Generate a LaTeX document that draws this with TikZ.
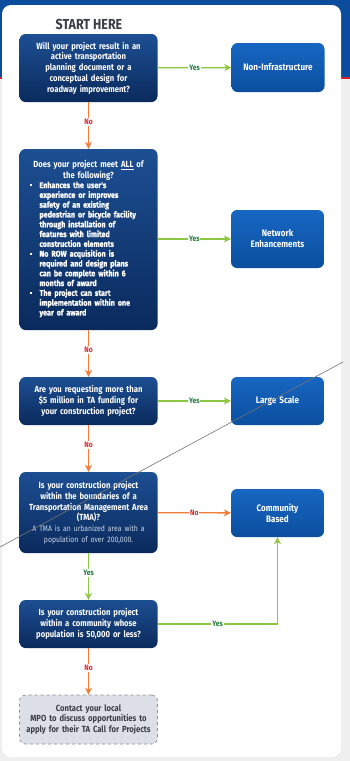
\documentclass[tikz,border=0pt]{standalone}
\usepackage{fontspec}
\setmainfont{Fira Sans}[FakeStretch=0.86]
\newfontfamily\medfont{Fira Sans}[FakeStretch=0.86, FakeBold=1.0]
\usetikzlibrary{arrows.meta}
\definecolor{bandblue}{HTML}{0B4C9C}
\definecolor{bandred}{HTML}{D42027}
\definecolor{pagegray}{HTML}{EFEFEF}
\definecolor{qtop}{HTML}{1D4F93}
\definecolor{qbot}{HTML}{0A2A5C}
\definecolor{rtop}{HTML}{1766C2}
\definecolor{rbot}{HTML}{0B4F9E}
\definecolor{yesline}{HTML}{8DC63F}
\definecolor{yestext}{HTML}{1E7B3A}
\definecolor{noline}{HTML}{F37B36}
\definecolor{notext}{HTML}{D6262F}
\definecolor{darktext}{HTML}{3A3F47}
\definecolor{endfill}{HTML}{DCDFE5}
\definecolor{endborder}{HTML}{8A8F98}
\definecolor{subtext}{HTML}{C9D5E8}
\newcommand{\sqbul}{\raisebox{1.8pt}{\rule{2.2pt}{2.2pt}}}
\begin{document}
\begin{tikzpicture}[x=1pt,y=-1pt,
  qbox/.style={rounded corners=6pt, top color=qtop, bottom color=qbot, draw=none,
    text=white, align=center, minimum width=138pt, text width=134pt, inner sep=2pt,
    font=\bfseries\fontsize{8.9}{10.8}\selectfont},
  rbox/.style={rounded corners=6pt, top color=rtop, bottom color=rbot, draw=none,
    text=white, align=center, minimum width=93pt, text width=90pt, inner sep=1.5pt,
    font=\bfseries\fontsize{9.4}{11}\selectfont},
  endbox/.style={rounded corners=6pt, fill=endfill, draw=endborder, dashed, line width=0.7pt,
    text=darktext, align=center, minimum width=138pt, text width=134pt, inner sep=2pt,
    font=\bfseries\fontsize{8.9}{10.6}\selectfont},
  yesarrow/.style={draw=yesline, line width=1.3pt, -{Stealth[length=7pt,width=7pt]}},
  noarrow/.style={draw=noline, line width=1.3pt, -{Stealth[length=7pt,width=7pt]}},
  yeslbl/.style={fill=white, inner sep=1pt, text=yestext, font=\bfseries\fontsize{7.8}{8}\selectfont},
  nolbl/.style={fill=white, inner sep=1pt, text=notext, font=\bfseries\fontsize{7.8}{8}\selectfont},
]
% background
\fill[pagegray] (0,0) rectangle (350,761);
\fill[bandblue] (0,0) rectangle (350,77);
\fill[bandred] (0,77) rectangle (350,79);
\fill[white, rounded corners=9pt] (2,5) rectangle (341,757);
\useasboundingbox (0,0) rectangle (350,761);

\node[text=darktext, font=\bfseries\fontsize{14.5}{16}\selectfont] (start) at (89,24) {START HERE};

\node[qbox, minimum height=68pt] (q1) at (88.5,68)
  {Will your project result in an\\active transportation\\planning document or a\\conceptual design for\\roadway improvement?};
\node[rbox, minimum height=49pt] (r1) at (278,67.5) {Non-Infrastructure};

\node[qbox, minimum height=181pt] (q2) at (88.5,239.5)
  {{\fontsize{8.9}{10.4}\selectfont Does your project meet \underline{ALL} of\\the following?\par}
   {\medfont\fontsize{8.3}{9.8}\selectfont\renewcommand{\arraystretch}{1}%
   \hspace*{4pt}\begin{tabular}{@{}p{10pt}@{}p{112pt}@{}}
   \sqbul & Enhances the user's\\
   & experience or improves\\
   & safety of an existing\\
   & pedestrian or bicycle facility\\
   & through installation of\\
   & features with limited\\
   & construction elements\\
   \sqbul & No ROW acquisition is\\
   & required and design plans\\
   & can be complete within 6\\
   & months of award\\
   \sqbul & The project can start\\
   & implementation within one\\
   & year of award
   \end{tabular}\par}};
\node[rbox, minimum height=58pt] (r2) at (277.5,239) {Network\\Enhancements};

\node[qbox, minimum height=48pt] (q3) at (88.5,401)
  {Are you requesting more than\\\$5 million in TA funding for\\your construction project?};
\node[rbox, minimum height=48pt] (r3) at (277.5,401) {Large Scale};

\node[qbox, minimum height=81pt] (q4) at (88.5,512.5)
  {Is your construction project\\within the boundaries of a\\Transportation Management Area\\(TMA)?\\[1pt]
   {\mdseries\color{subtext}\fontsize{8}{9.5}\selectfont A TMA is an urbanized area with a\\population of over 200,000.}};
\node[rbox, minimum height=48pt] (r4) at (277.5,513) {Community\\Based};

\node[qbox, minimum height=48pt] (q5) at (88.5,624)
  {Is your construction project\\within a community whose\\population is 50,000 or less?};

\node[endbox, minimum height=49pt] (e1) at (88.5,719.5)
  {Contact your local\\MPO to discuss opportunities to\\apply for their TA Call for Projects};

% connectors
\draw[yesarrow] (q1) -- node[yeslbl]{Yes} (r1);
\draw[noarrow] (q1) -- node[nolbl, pos=0.43]{No} (q2);
\draw[yesarrow] (q2.east |- r2) -- node[yeslbl]{Yes} (r2);
\draw[noarrow] (q2) -- node[nolbl, pos=0.43]{No} (q3);
\draw[yesarrow] (q3) -- node[yeslbl]{Yes} (r3);
\draw[noarrow] (q3) -- node[nolbl, pos=0.43]{No} (q4);
\draw[noarrow] (q4) -- node[nolbl]{No} (r4);
\draw[yesarrow] (q4) -- node[yeslbl, pos=0.43]{Yes} (q5);
\draw[yesarrow] (q5.east) -| node[yeslbl, pos=0.25]{Yes} (r4.south);
\draw[noarrow] (q5) -- node[nolbl, pos=0.43]{No} (e1);

% thin diagonal line crossing the chart
\coordinate (dl1) at (0,547);
\coordinate (dl2) at (343,362);
\draw[black!55, line width=0.6pt] (dl1) -- (dl2);
\end{tikzpicture}
\end{document}
